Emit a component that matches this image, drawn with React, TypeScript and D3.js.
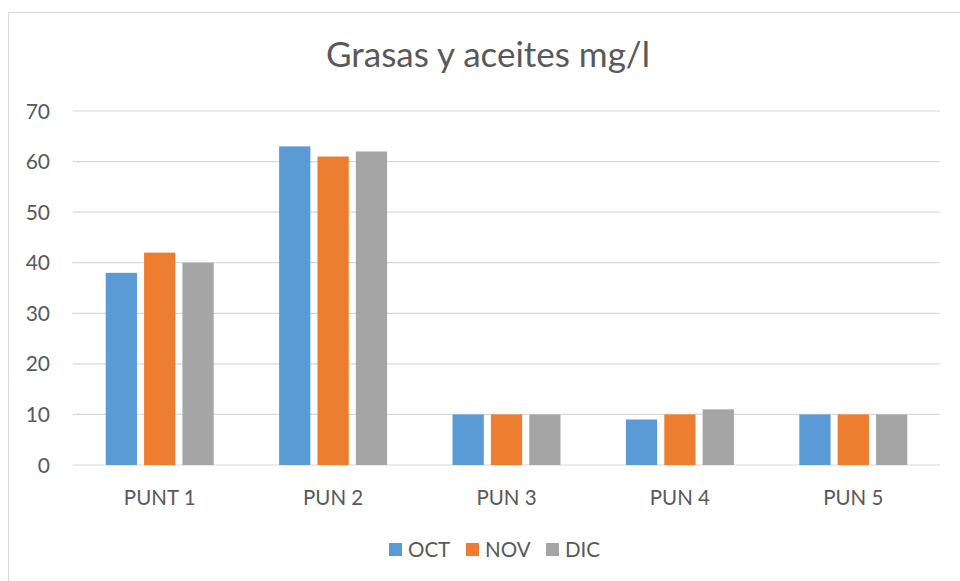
import React from "react";
import * as d3 from "d3";

const categories = ["PUNT 1", "PUN 2", "PUN 3", "PUN 4", "PUN 5"];
const seriesNames = ["OCT", "NOV", "DIC"];
const octValues = [38, 63, 10, 9, 10];
const novValues = [42, 61, 10, 10, 10];
const dicValues = [40, 62, 10, 11, 10];
const yTicks = [0, 10, 20, 30, 40, 50, 60, 70];
const colors = ["#5B9BD5", "#ED7D31", "#A5A5A5"];

const W = 960;
const H = 581;
const FONT = "Lato, 'Open Sans', sans-serif";

export default function App() {
  const values = [octValues, novValues, dicValues];
  const plotLeft = 73;
  const plotRight = 940;
  const plotTop = 111;
  const plotBottom = 465;

  const x = d3.scaleBand<string>().domain(categories).range([plotLeft, plotRight]).paddingInner(0).paddingOuter(0);
  const y = d3.scaleLinear().domain([0, 70]).range([plotBottom, plotTop]);
  const groupWidth = 108;
  const inner = d3
    .scaleBand<string>()
    .domain(seriesNames)
    .range([(x.bandwidth() - groupWidth) / 2, (x.bandwidth() + groupWidth) / 2])
    .paddingInner(0.185);

  const legendX = [389, 466, 546];

  return (
    <svg width={W} height={H} style={{ position: "absolute", left: 0, top: 0, background: "#fff" }}>
      <rect x={0} y={0} width={W} height={H} fill="#fff" />
      <rect x={8.5} y={12.5} width={W} height={H} fill="#fff" stroke="#D9D9D9" strokeWidth={1} />
      <text x={488} y={67} textAnchor="middle" fontFamily={FONT} fontSize={35} fill="#595959">
        Grasas y aceites mg/l
      </text>
      {yTicks.map((t) => (
        <g key={t}>
          <line x1={plotLeft} x2={plotRight} y1={y(t)} y2={y(t)} stroke="#D9D9D9" strokeWidth={1.2} />
          <text x={50} y={y(t) + 7.5} textAnchor="end" fontFamily={FONT} fontSize={21} fill="#595959">
            {t}
          </text>
        </g>
      ))}
      {categories.map((c, i) => (
        <g key={c} transform={`translate(${x(c)},0)`}>
          {seriesNames.map((s, j) => (
            <rect
              key={s}
              x={inner(s)}
              y={y(values[j][i])}
              width={inner.bandwidth()}
              height={y(0) - y(values[j][i])}
              fill={colors[j]}
            />
          ))}
          <text x={x.bandwidth() / 2} y={505} textAnchor="middle" fontFamily={FONT} fontSize={20.5} fill="#595959">
            {c}
          </text>
        </g>
      ))}
      {seriesNames.map((s, j) => (
        <g key={s}>
          <rect x={legendX[j]} y={543} width={13} height={13} fill={colors[j]} />
          <text x={legendX[j] + 19} y={557} fontFamily={FONT} fontSize={20.5} fill="#595959">
            {s}
          </text>
        </g>
      ))}
    </svg>
  );
}
